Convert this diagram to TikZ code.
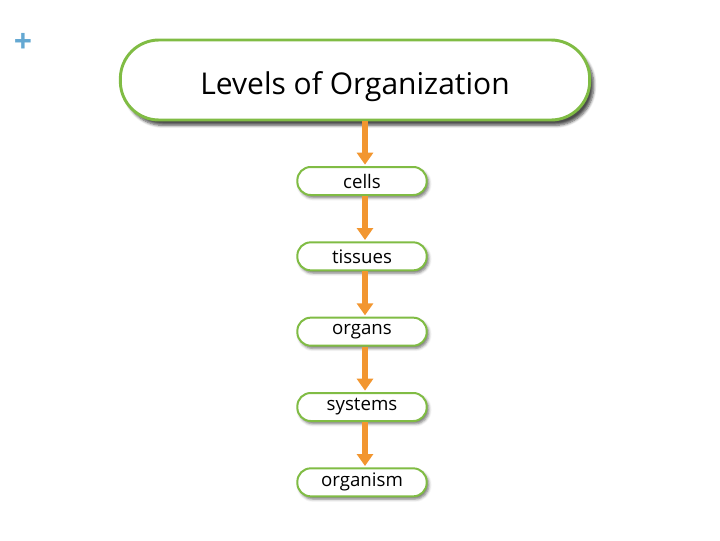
\documentclass[tikz,border=0pt]{standalone}
\usepackage{fontspec}
\setmainfont{Open Sans}
\usetikzlibrary{arrows.meta, positioning, shadows.blur}
\definecolor{leafgreen}{RGB}{128,188,68}
\definecolor{arroworange}{RGB}{242,150,48}
\definecolor{plusblue}{RGB}{100,168,210}

\begin{document}
\begin{tikzpicture}[x=0.75pt, y=-0.75pt,
    titlebox/.style={draw=leafgreen, line width=2.2pt, fill=white, rounded corners=29pt,
      minimum width=352pt, minimum height=60pt, font=\fontsize{22.5}{26}\selectfont,
      blur shadow={shadow xshift=3pt, shadow yshift=-4pt, shadow blur steps=6, shadow opacity=70}},
    levelbox/.style={draw=leafgreen, line width=1.5pt, fill=white, rounded corners=10pt,
      minimum width=97pt, minimum height=21pt, inner sep=0pt, font=\fontsize{14}{16}\selectfont,
      blur shadow={shadow xshift=1.5pt, shadow yshift=-2pt, shadow blur steps=4, shadow opacity=55}},
    stepline/.style={-{Triangle[width=12pt, length=9pt]}, arroworange, line width=4pt,
      shorten >=1pt}]
  \useasboundingbox (0,0) rectangle (720,540);
  % corner mark
  \node[text=plusblue, font=\bfseries\fontsize{24}{24}\selectfont] (plus) at (23,43) {+};
  % title and levels
  \node[titlebox] (title) at (355,80) {\raisebox{-11pt}[0pt][0pt]{Levels of Organization}};
  \node[levelbox] (cells) at (362,181) {cells};
  \node[levelbox, below=34pt of cells] (tissues) {tissues};
  \node[levelbox, below=34pt of tissues] (organs) {organs};
  \node[levelbox, below=34pt of organs] (systems) {systems};
  \node[levelbox, below=34pt of systems] (organism) {organism};
  % arrows
  \draw[stepline] (title.south -| cells.north) ++(3,0) coordinate (t0) -- (t0 |- cells.north);
  \foreach \a/\b in {cells/tissues, tissues/organs, organs/systems, systems/organism}
    \draw[stepline] ([xshift=2.25pt]\a.south) -- ([xshift=2.25pt]\b.north);
\end{tikzpicture}
\end{document}
